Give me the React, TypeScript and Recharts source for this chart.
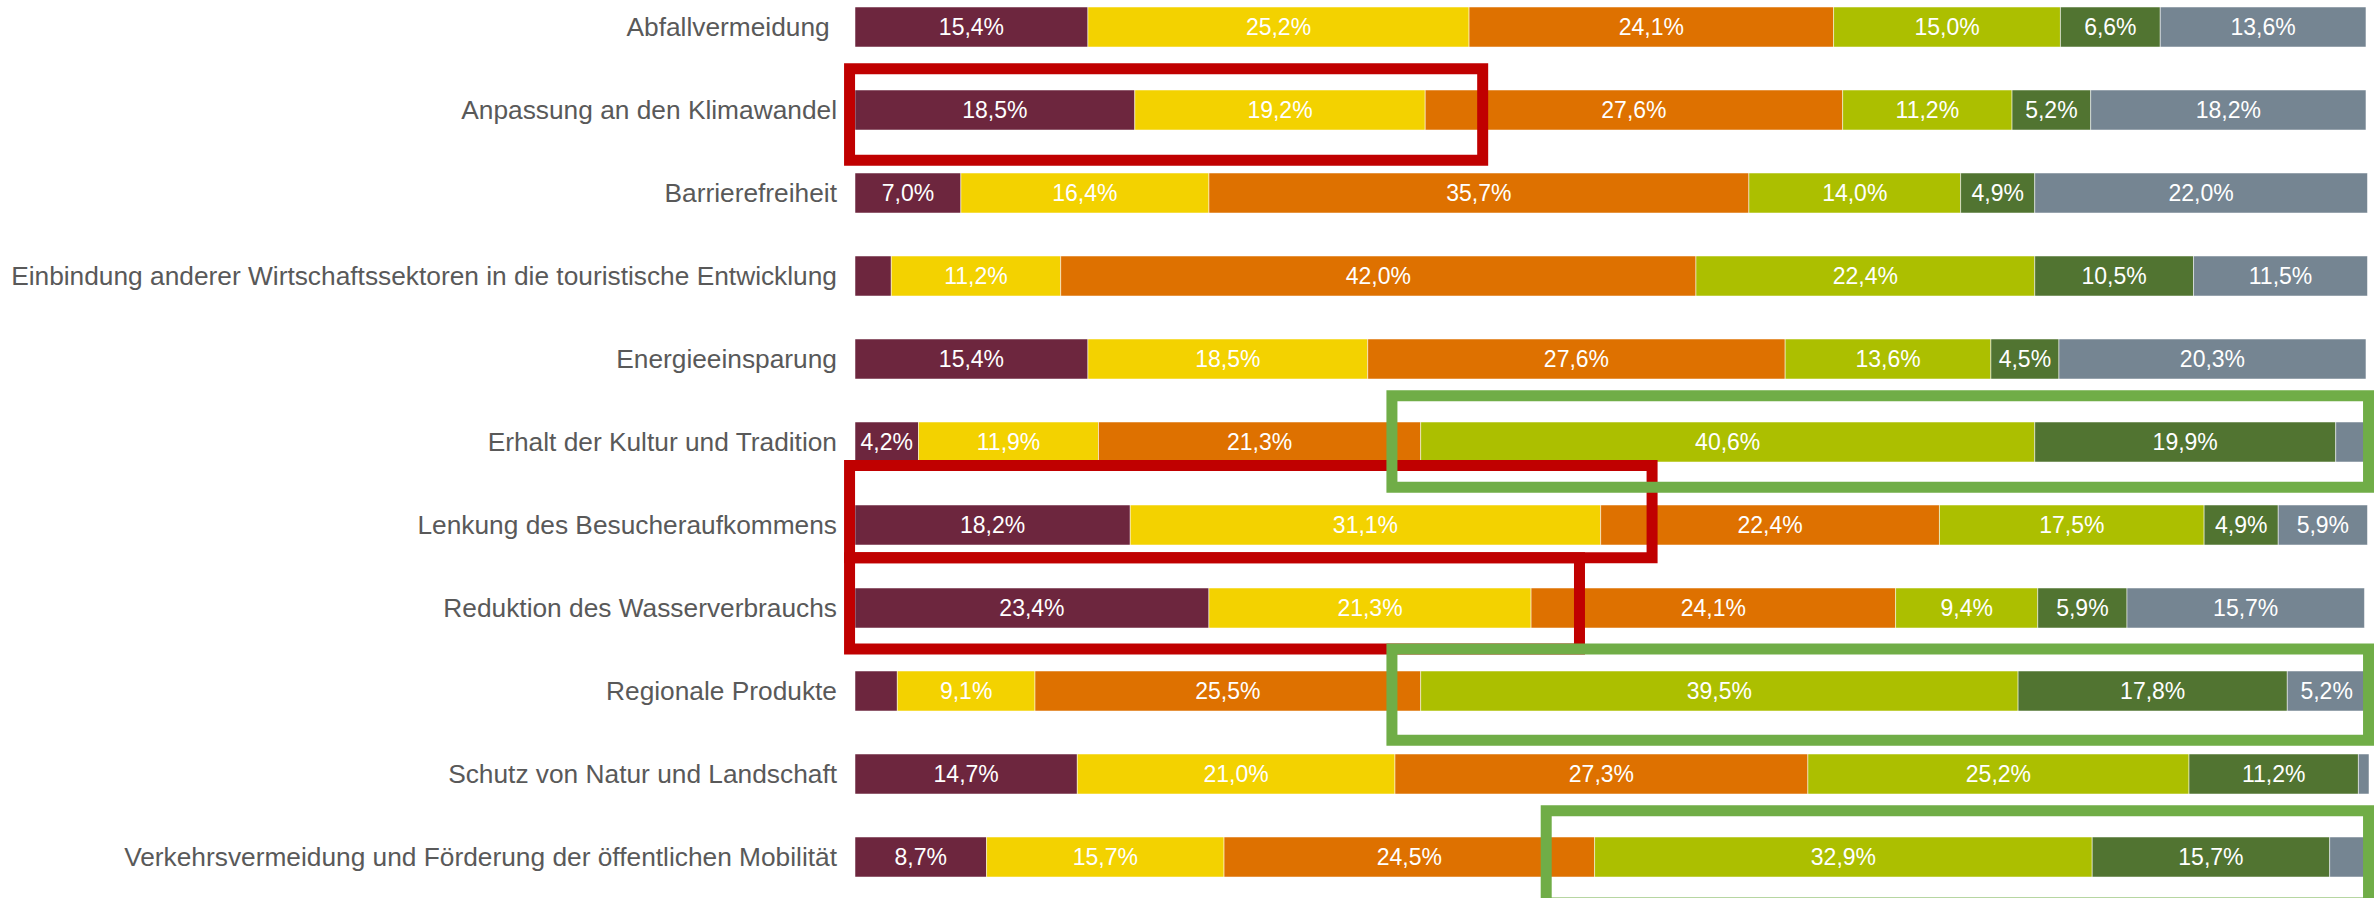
import React from "react";
import { BarChart, Bar, XAxis, YAxis, LabelList, ReferenceArea } from "recharts";

const categories = [
  "Abfallvermeidung\u00a0",
  "Anpassung an den Klimawandel",
  "Barrierefreiheit",
  "Einbindung anderer Wirtschaftssektoren in die touristische Entwicklung",
  "Energieeinsparung",
  "Erhalt der Kultur und Tradition",
  "Lenkung des Besucheraufkommens",
  "Reduktion des Wasserverbrauchs",
  "Regionale Produkte",
  "Schutz von Natur und Landschaft",
  "Verkehrsvermeidung und Förderung der öffentlichen Mobilität",
];

const s1 = [15.4, 18.5, 7.0, 2.4, 15.4, 4.2, 18.2, 23.4, 2.8, 14.7, 8.7];
const s2 = [25.2, 19.2, 16.4, 11.2, 18.5, 11.9, 31.1, 21.3, 9.1, 21.0, 15.7];
const s3 = [24.1, 27.6, 35.7, 42.0, 27.6, 21.3, 22.4, 24.1, 25.5, 27.3, 24.5];
const s4 = [15.0, 11.2, 14.0, 22.4, 13.6, 40.6, 17.5, 9.4, 39.5, 25.2, 32.9];
const s5 = [6.6, 5.2, 4.9, 10.5, 4.5, 19.9, 4.9, 5.9, 17.8, 11.2, 15.7];
const s6 = [13.6, 18.2, 22.0, 11.5, 20.3, 2.1, 5.9, 15.7, 5.2, 0.7, 2.5];

const data = categories.map((name, i) => ({
  name,
  s1: s1[i],
  s2: s2[i],
  s3: s3[i],
  s4: s4[i],
  s5: s5[i],
  s6: s6[i],
}));

const series = [
  { key: "s1", color: "#6d263e" },
  { key: "s2", color: "#f3d200" },
  { key: "s3", color: "#de7100" },
  { key: "s4", color: "#acbf00" },
  { key: "s5", color: "#517431" },
  { key: "s6", color: "#758592" },
];

// hand drawn highlight boxes (x in %, y in row units 0..11)
const RED = "#c00000";
const GREEN = "#70ad47";
const highlights = [
  { x1: -0.36, x2: 41.5, y1: 1.01, y2: 2.11, color: RED },
  { x1: -0.36, x2: 52.7, y1: 5.79, y2: 6.9, color: RED },
  { x1: -0.36, x2: 47.9, y1: 6.9, y2: 8.0, color: RED },
  { x1: 35.5, x2: 100.07, y1: 4.95, y2: 6.05, color: GREEN },
  { x1: 35.5, x2: 100.07, y1: 8.0, y2: 9.1, color: GREEN },
  { x1: 45.7, x2: 100.07, y1: 9.95, y2: 11.06, color: GREEN },
];

// the hidden row axis runs over the row indexes (0..n-1), so map row units onto it
const n = categories.length;
const toAxis = (v: number) => (v * (n - 1)) / n;

const fmt = (v: any) => (v < 3.5 ? "" : Number(v).toFixed(1).replace(".", ",") + "%");

export default function App() {
  return (
    <div style={{ position: "absolute", left: 0, top: 0, width: 2374, height: 904, overflow: "hidden", background: "#fff" }}>
      <div style={{ position: "absolute", left: 0, top: -15 }}>
        <BarChart
          width={2374}
          height={913}
          data={data}
          layout="vertical"
          barSize={40}
          margin={{ top: 0, right: 5, bottom: 0, left: 0 }}
          style={{ fontFamily: "'Liberation Sans', Arial, sans-serif" }}
        >
          <XAxis type="number" domain={[0, 100]} hide />
          <YAxis
            type="category"
            dataKey="name"
            width={855}
            axisLine={false}
            tickLine={false}
            tickMargin={12}
            interval={0}
            tick={{ fill: "#595959", fontSize: 26.3 }}
          />
          <YAxis yAxisId="pos" type="number" domain={[0, n - 1]} allowDataOverflow hide />
          {series.map((s) => (
            <Bar
              key={s.key}
              dataKey={s.key}
              stackId="a"
              fill={s.color}
              stroke="#ffffff"
              strokeOpacity={0.5}
              strokeWidth={1}
              isAnimationActive={false}
            >
              <LabelList dataKey={s.key} position="center" formatter={fmt} fill="#ffffff" fontSize={23} />
            </Bar>
          ))}
          {highlights.map((h, i) => (
            <ReferenceArea
              key={i}
              yAxisId="pos"
              x1={h.x1}
              x2={h.x2}
              y1={toAxis(h.y1)}
              y2={toAxis(h.y2)}
              fill="none"
              fillOpacity={0}
              stroke={h.color}
              strokeWidth={11}
              ifOverflow="visible"
              zIndex={1500}
            />
          ))}
        </BarChart>
      </div>
    </div>
  );
}
